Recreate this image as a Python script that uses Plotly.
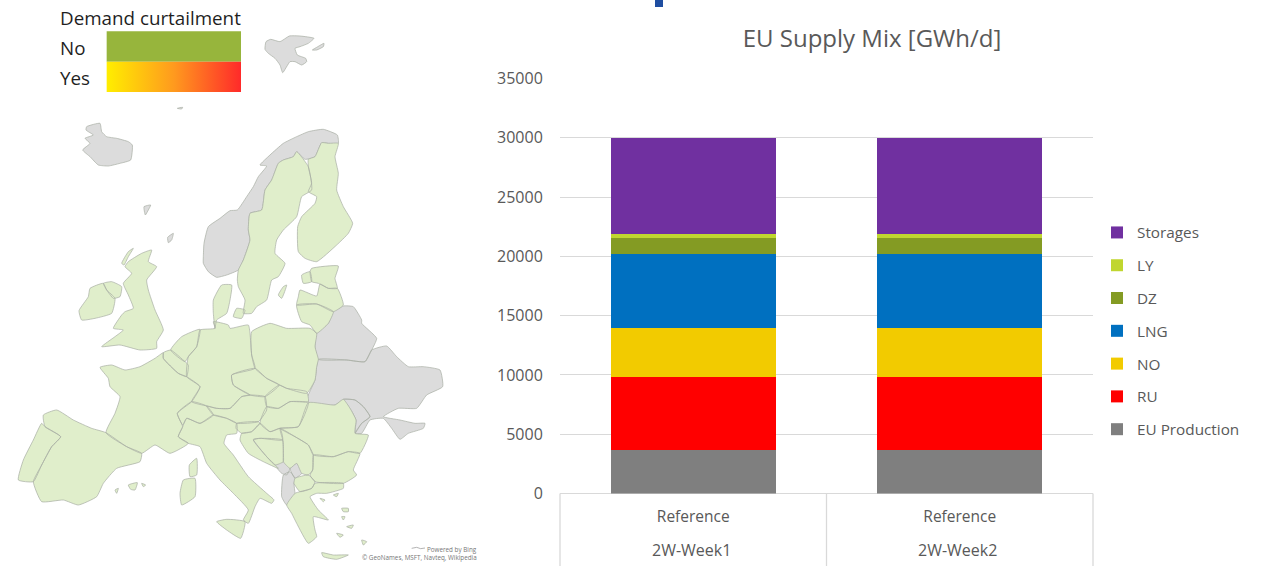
import plotly.graph_objects as go

W, H = 1270, 566
FONT = "Open Sans"
TXT = "#595959"

# ---- stacked bar data ----
WEEKS = ["2W-Week1", "2W-Week2"]
SCENARIO = ["Reference", "Reference"]
EU_PRODUCTION = [3700, 3700]
RU = [6130, 6130]
NO = [4170, 4170]
LNG = [6200, 6200]
DZ = [1350, 1350]
LY = [330, 330]
STORAGES = [8120, 8120]
SERIES = [
    ("EU Production", EU_PRODUCTION, "#7f7f7f"),
    ("RU", RU, "#ff0000"),
    ("NO", NO, "#f2cb00"),
    ("LNG", LNG, "#0070c0"),
    ("DZ", DZ, "#849b23"),
    ("LY", LY, "#c0d62f"),
    ("Storages", STORAGES, "#7030a0"),
]
Y_TICKS = [0, 5000, 10000, 15000, 20000, 25000, 30000, 35000]

# ---- map outlines, in map units (one unit = a third of a pixel) ----
SVALBARD = [(798,-715),(812,-722),(840,-715),(868,-732),(900,-732),(942,-725),(925,-710),(900,-700),(885,-695),(892,-675),(917,-665),(920,-655),(905,-645),(885,-655),(870,-655),(848,-622),(840,-645),(825,-665),(805,-680),(795,-692)]
SVALBARD_E = [(937,-690),(950,-698),(972,-710),(970,-700),(950,-690)]
JAN_MAYEN = [(532,-515),(548,-518),(545,-513)]
ICELAND = [(260,-460),(300,-470),(305,-445),(320,-430),(350,-425),(385,-415),(397,-405),(392,-360),(360,-350),(325,-342),(295,-345),(270,-370),(248,-390),(270,-410),(255,-425),(280,-435),(258,-450)]
FAROE = [(432,-220),(452,-225),(445,-210),(436,-195)]
SHETLAND = [(503,-128),(520,-140),(515,-120),(505,-112)]
NORWAY = [(610,-70),(612,-110),(625,-160),(660,-185),(690,-208),(712,-210),(740,-250),(760,-280),(775,-310),(800,-342),(780,-345),(810,-375),(850,-410),(890,-430),(925,-445),(970,-452),(1012,-435),(1015,-410),(985,-410),(965,-412),(945,-370),(915,-362),(890,-385),(880,-370),(850,-360),(835,-350),(815,-300),(795,-270),(785,-210),(750,-200),(745,-150),(750,-120),(730,-60),(715,-30),(680,-15),(650,-8),(625,-25),(610,-50)]
SWEDEN = [(890,-385),(925,-340),(935,-270),(905,-250),(890,-190),(850,-150),(830,-120),(825,-80),(855,-50),(835,-10),(815,0),(800,60),(770,80),(755,100),(730,100),(735,60),(715,20),(712,0),(715,-30),(730,-60),(750,-120),(745,-150),(750,-200),(785,-210),(795,-270),(815,-300),(835,-350),(850,-360),(880,-370)]
FINLAND = [(925,-362),(945,-370),(965,-412),(985,-410),(1015,-410),(1005,-370),(1015,-320),(1010,-270),(1030,-220),(1058,-170),(1045,-140),(1010,-105),(950,-55),(915,-65),(895,-85),(893,-160),(905,-190),(945,-230),(950,-250),(925,-265),(935,-290),(925,-340)]
ESTONIA = [(935,-35),(1015,-42),(1005,-5),(1012,25),(985,25),(955,10),(935,5),(930,-25)]
LATVIA = [(900,30),(950,48),(960,12),(985,25),(1012,25),(1030,75),(1000,95),(950,72),(890,75),(895,50)]
LITHUANIA = [(890,75),(950,72),(1000,95),(985,130),(950,160),(930,135),(905,125)]
BELARUS = [(1000,95),(1030,78),(1060,80),(1085,120),(1085,130),(1130,175),(1115,210),(1095,245),(1040,240),(955,238),(945,200),(950,160),(985,130)]
UKRAINE = [(955,238),(1040,240),(1095,245),(1115,210),(1160,198),(1190,230),(1225,260),(1270,260),(1320,270),(1328,320),(1280,345),(1250,385),(1195,385),(1150,410),(1200,420),(1245,430),(1275,430),(1270,445),(1225,460),(1200,478),(1175,445),(1150,415),(1110,420),(1085,460),(1065,460),(1085,430),(1110,410),(1090,380),(1065,360),(1030,358),(1005,375),(940,375),(920,360),(945,300),(950,260)]
MOLDOVA = [(1030,358),(1065,360),(1090,380),(1110,410),(1085,430),(1065,460),(1068,420),(1050,385)]
IRELAND = [(237,92),(265,50),(270,25),(310,10),(320,30),(345,55),(335,100),(285,115),(245,120)]
N_IRELAND = [(310,10),(335,5),(365,20),(360,50),(340,55),(320,30)]
BRITAIN = [(385,-55),(425,-80),(455,-90),(445,-55),(470,-40),(440,0),(445,30),(465,90),(490,150),(470,185),(470,205),(420,210),(360,195),(305,200),(345,170),(370,150),(340,145),(365,105),(375,95),(400,85),(385,45),(370,10),(395,-20),(375,-40)]
HEBRIDES = [(365,-50),(385,-85),(400,-95),(385,-70),(372,-45)]
DENMARK = [(640,100),(640,60),(665,15),(695,15),(690,60),(680,100),(650,120),(645,145)]
ZEALAND = [(710,85),(735,90),(725,115),(700,110)]
GERMANY = [(600,150),(645,145),(640,125),(685,135),(690,145),(745,135),(750,160),(755,225),(765,265),(695,285),(700,315),(750,345),(725,350),(690,385),(650,385),(620,378),(575,365),(600,320),(560,290),(565,230),(590,200)]
NETHERLANDS = [(512,210),(545,170),(600,148),(590,200),(565,230),(555,245)]
BELGIUM = [(490,218),(512,210),(555,245),(565,255),(560,290),(535,280),(490,235)]
FRANCE = [(300,262),(335,255),(375,270),(420,260),(465,235),(490,218),(490,235),(535,280),(560,290),(600,320),(575,365),(532,400),(548,440),(535,470),(565,490),(510,520),(465,495),(425,520),(380,500),(318,458),(345,400),(360,350),(330,320),(325,295)]
CORSICA = [(568,555),(590,535),(590,585),(570,590)]
SPAIN = [(130,405),(170,390),(220,420),(275,445),(318,458),(380,500),(425,520),(420,545),(350,565),(310,610),(290,650),(235,675),(190,660),(125,665),(100,605),(125,555),(155,500),(182,470),(135,440)]
PORTUGAL = [(125,430),(135,440),(182,470),(155,500),(125,555),(100,605),(55,600),(70,540),(100,480)]
MALLORCA = [(385,615),(412,608),(405,630),(392,628)]
MENORCA = [(425,610),(437,615),(430,620)]
IBIZA = [(345,630),(355,625),(350,640)]
SWITZERLAND = [(532,400),(575,365),(620,378),(640,405),(600,430),(560,415),(548,435)]
ITALY = [(548,440),(560,415),(600,430),(640,405),(680,415),(710,430),(710,460),(680,465),(672,490),(700,525),(745,590),(800,640),(822,660),(815,670),(780,655),(765,680),(745,730),(730,720),(745,690),(700,640),(660,600),(620,550),(600,500),(565,490),(535,470)]
SICILY = [(650,725),(680,718),(735,725),(722,775),(680,750)]
SARDINIA = [(550,600),(585,595),(585,650),(545,675),(540,640)]
AUSTRIA = [(620,378),(650,385),(690,385),(725,350),(750,345),(795,350),(800,390),(775,425),(710,430),(680,415),(640,405)]
CZECHIA = [(695,285),(765,265),(800,295),(838,315),(795,350),(750,345),(700,315)]
SLOVAKIA = [(838,315),(860,325),(920,335),(925,365),(870,365),(835,385),(800,380),(795,350)]
POLAND = [(755,155),(810,130),(860,145),(930,145),(950,160),(945,200),(955,238),(950,260),(945,300),(920,340),(860,325),(838,315),(800,295),(765,265),(755,225)]
HUNGARY = [(800,380),(835,385),(870,365),(925,368),(895,440),(840,445),(810,455),(780,430)]
ROMANIA = [(925,368),(1005,375),(1030,358),(1050,385),(1068,420),(1065,460),(1105,465),(1080,520),(1045,515),(1000,530),(940,525),(925,495),(885,470),(840,445),(895,440)]
BULGARIA = [(940,525),(1000,530),(1045,515),(1080,520),(1060,570),(1070,585),(1030,610),(945,605),(930,585),(938,570)]
SLOVENIA = [(710,430),(775,425),(780,430),(755,455),(725,460),(708,445)]
CROATIA = [(725,460),(755,455),(780,430),(810,455),(840,445),(848,480),(780,475),(760,480),(800,530),(835,565),(790,545),(745,520),(720,480)]
BOSNIA = [(760,478),(780,475),(848,480),(850,520),(850,545),(825,555),(800,530)]
SERBIA = [(840,445),(885,470),(925,495),(940,525),(938,570),(925,585),(905,580),(890,550),(870,565),(850,545),(850,520),(848,480)]
KOSOVO = [(870,565),(890,550),(910,575),(885,595)]
MONTENEGRO = [(825,555),(850,545),(870,565),(860,585),(845,580)]
ALBANIA = [(850,585),(870,575),(885,595),(882,610),(885,640),(885,650),(860,675),(845,650)]
N_MACEDONIA = [(885,595),(925,585),(945,605),(935,625),(900,635),(882,610)]
GREECE = [(885,640),(900,635),(935,625),(945,610),(1030,610),(1030,625),(980,640),(950,640),(930,650),(955,690),(985,720),(940,710),(945,750),(950,770),(925,790),(890,730),(875,700),(860,675)]
CRETE = [(965,818),(1000,825),(1045,825),(1010,838),(970,830)]
LESBOS = [(1025,685),(1045,685),(1045,695),(1030,695)]
AEGEAN_1 = [(960,655),(975,660),(970,665)]
AEGEAN_2 = [(1000,645),(1015,640),(1010,650)]
AEGEAN_3 = [(1025,710),(1035,710),(1030,720)]
AEGEAN_4 = [(1010,760),(1030,765),(1020,772)]
AEGEAN_5 = [(1085,780),(1100,785),(1090,795)]
AEGEAN_6 = [(1040,740),(1060,735),(1055,745)]
GOTLAND = [(850,20),(860,15),(845,55),(835,45)]
SAAREMAA = [(905,-15),(930,-25),(935,5),(910,10)]

GREEN_AREAS = [SWEDEN, FINLAND, ESTONIA, LATVIA, LITHUANIA, IRELAND, N_IRELAND, BRITAIN, HEBRIDES, DENMARK, ZEALAND, GERMANY,
               NETHERLANDS, BELGIUM, FRANCE, CORSICA, SPAIN, PORTUGAL, MALLORCA, MENORCA, IBIZA, SWITZERLAND, ITALY, SICILY, SARDINIA,
               AUSTRIA, CZECHIA, SLOVAKIA, POLAND, HUNGARY, ROMANIA, BULGARIA, SLOVENIA, CROATIA, BOSNIA, SERBIA,
               N_MACEDONIA, GREECE, CRETE, LESBOS, AEGEAN_1, AEGEAN_2, AEGEAN_3, AEGEAN_4, AEGEAN_5, AEGEAN_6, GOTLAND, SAAREMAA]
GREY_AREAS = [SVALBARD, SVALBARD_E, JAN_MAYEN, ICELAND, FAROE, SHETLAND, NORWAY, BELARUS, UKRAINE, MOLDOVA, KOSOVO, MONTENEGRO, ALBANIA]

BING_LOGO_X = [1235, 1250, 1262, 1275]
BING_LOGO_Y = [805, 802, 806, 804]

# map-legend swatches (map units)
KEY_X = [320, 723]
KEY_NO_Y = [-746, -655]
KEY_YES_Y = [-655, -564]


def flat(areas):
    xs, ys = [], []
    for area in areas:
        xs += [p[0] for p in area] + [area[0][0], None]
        ys += [p[1] for p in area] + [area[0][1], None]
    return xs, ys


fig = go.Figure()

for i, (name, values, colour) in enumerate(SERIES):
    fig.add_trace(go.Bar(
        name=name, legendgroup=name, legendrank=1000 - i,
        x=WEEKS, y=values, marker=dict(color=colour, line_width=0),
        xaxis="x", yaxis="y",
    ))

for areas, colour in ((GREY_AREAS, "#dcdcdc"), (GREEN_AREAS, "#e0eecb")):
    xs, ys = flat(areas)
    fig.add_trace(go.Scatter(
        x=xs, y=ys, mode="lines", fill="toself", fillcolor=colour,
        line=dict(color="#a8ada4", width=0.7, shape="spline", smoothing=0.45), xaxis="x2", yaxis="y2",
        showlegend=False, hoverinfo="skip",
    ))

fig.add_trace(go.Scatter(
    x=BING_LOGO_X, y=BING_LOGO_Y, mode="lines", line=dict(color="#a0a0a0", width=0.8),
    xaxis="x2", yaxis="y2", showlegend=False, hoverinfo="skip",
))

x0, x1 = KEY_X
fig.add_trace(go.Scatter(
    x=[x0, x1, x1, x0, x0], y=[KEY_NO_Y[0], KEY_NO_Y[0], KEY_NO_Y[1], KEY_NO_Y[1], KEY_NO_Y[0]],
    mode="lines", fill="toself", fillcolor="#97b53c", line_width=0,
    xaxis="x2", yaxis="y2", showlegend=False, hoverinfo="skip",
))
fig.add_trace(go.Scatter(
    x=[x0, x1, x1, x0, x0], y=[KEY_YES_Y[0], KEY_YES_Y[0], KEY_YES_Y[1], KEY_YES_Y[1], KEY_YES_Y[0]],
    mode="lines", fill="toself", line_width=0,
    fillgradient=dict(type="horizontal", colorscale=[[0, "#ffee00"], [0.5, "#ff9a1e"], [1, "#ff2a2a"]]),
    xaxis="x2", yaxis="y2", showlegend=False, hoverinfo="skip",
))

GRID = "#d9d9d9"
shapes = [dict(type="line", xref="paper", yref="paper", x0=px / W, x1=px / W,
               y0=0, y1=1 - 493.5 / H, line=dict(color=GRID, width=1.3))
          for px in (560, 826.5, 1093)]
shapes.append(dict(type="rect", xref="paper", yref="paper", x0=655 / W, x1=663 / W,
                   y0=1 - 7 / H, y1=1, fillcolor="#1f4ea1", line_width=0))

annotations = [
    dict(text="Demand curtailment", x=60 / W, y=1 - 18 / H, xanchor="left"),
    dict(text="No", x=60 / W, y=1 - 48 / H, xanchor="left"),
    dict(text="Yes", x=60 / W, y=1 - 78 / H, xanchor="left"),
]
annotations = [dict(a, xref="paper", yref="paper", yanchor="middle", showarrow=False, xshift=-2,
                    font=dict(family=FONT, size=18.8, color="#1f1f1f")) for a in annotations]
for txt, py in (("Powered by Bing", 549), ("© GeoNames, MSFT, Navteq, Wikipedia", 557)):
    annotations.append(dict(text=txt, xref="paper", yref="paper", x=477 / W, y=1 - py / H,
                            xanchor="right", yanchor="middle", showarrow=False, xshift=1.5,
                            font=dict(family=FONT, size=6.3, color="#777777")))
for week in WEEKS:
    annotations.append(dict(text=week, xref="x", yref="paper", x=week, y=1 - 550 / H,
                            xanchor="center", yanchor="middle", showarrow=False, xshift=-2,
                            font=dict(family=FONT, size=16, color=TXT)))

fig.update_layout(
    width=W, height=H, autosize=False,
    margin=dict(l=0, r=0, t=0, b=0, autoexpand=False),
    paper_bgcolor="white", plot_bgcolor="rgba(0,0,0,0)",
    barmode="stack", bargap=0.38,
    font=dict(family=FONT, color=TXT),
    title=dict(text="EU Supply Mix [GWh/d]", x=872 / W, xanchor="center", xref="paper",
               y=1 - 39 / H, yanchor="middle", yref="paper",
               font=dict(family=FONT, size=24, color=TXT)),
    xaxis=dict(domain=[560 / W, 1093 / W], anchor="y", type="category",
               tickvals=WEEKS, ticktext=SCENARIO,
               showgrid=False, showline=False, zeroline=False,
               ticks="outside", ticklen=9, tickcolor="rgba(0,0,0,0)",
               tickfont=dict(family=FONT, size=15.5, color=TXT)),
    yaxis=dict(domain=[1 - 493.5 / H, 1 - 78.5 / H], anchor="x", range=[0, 35000],
               tickvals=Y_TICKS, showgrid=True, gridcolor=GRID, gridwidth=1.3,
               zeroline=True, zerolinecolor=GRID, zerolinewidth=1.3, showline=False,
               ticks="outside", ticklen=13, tickcolor="rgba(0,0,0,0)",
               tickfont=dict(family=FONT, size=16, color=TXT), tickformat="d"),
    xaxis2=dict(domain=[0, 480 / W], anchor="y2", range=[0, 1440], visible=False, fixedrange=True),
    yaxis2=dict(domain=[0, 1], anchor="x2", range=[858, -840], visible=False, fixedrange=True),
    legend=dict(x=1097 / W, y=1 - 216 / H, xanchor="left", yanchor="top",
                traceorder="grouped", tracegroupgap=9.9,
                font=dict(family=FONT, size=15.3, color=TXT), bgcolor="rgba(0,0,0,0)"),
    shapes=shapes, annotations=annotations, showlegend=True,
)

fig.write_html("out.html", config=dict(displayModeBar=False),
               post_script="document.body.style.margin='0';")
